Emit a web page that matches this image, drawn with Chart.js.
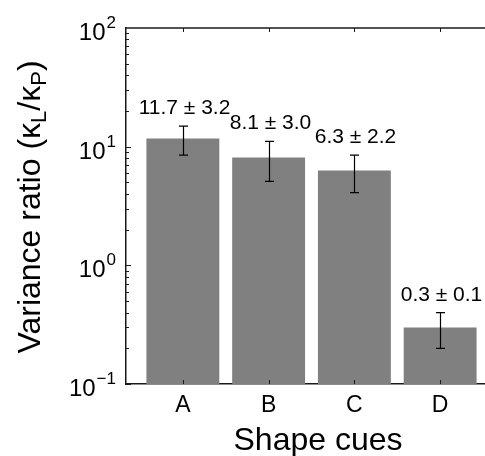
<!DOCTYPE html>
<html>
<head>
<meta charset="utf-8">
<script src="https://cdn.jsdelivr.net/npm/chart.js@4.4.1/dist/chart.umd.min.js"></script>
<style>
html, body { margin: 0; padding: 0; overflow: hidden; background: #fff; }
#wrap { width: 500px; height: 456px; position: relative; }
</style>
</head>
<body>
<div id="wrap"><canvas id="c"></canvas></div>
<script>
// ---- data ----
const categories = ['A', 'B', 'C', 'D'];
const means = [11.7, 8.1, 6.3, 0.3];
const errors = [3.2, 3.0, 2.2, 0.1];
const yTickValues = [0.1, 1, 10, 100];
const yTickExponents = ['\u22121', '0', '1', '2'];
const xTitle = 'Shape cues';

const FONT = '"Liberation Sans", Arial, Helvetica, sans-serif';
const INK = '#1a1a1a';

const decor = {
  id: 'decor',
  afterDatasetsDraw(chart) {
    const ctx = chart.ctx;
    const ca = chart.chartArea;
    const xs = chart.scales.x, ys = chart.scales.y;
    ctx.save();
    // top spine
    ctx.strokeStyle = INK;
    ctx.lineWidth = 1.5;
    ctx.beginPath();
    ctx.moveTo(ca.left - 0.75, ca.top);
    ctx.lineTo(ca.right, ca.top);
    ctx.stroke();
    // y ticks (major + minor), inward
    ctx.lineWidth = 1;
    for (let d = 0; d < yTickValues.length - 1; d++) {
      for (let m = 1; m <= 9; m++) {
        const v = yTickValues[d] * m;
        const py = Math.round(ys.getPixelForValue(v)) + 0.5;
        const len = m === 1 ? 5 : 3;
        ctx.beginPath();
        ctx.moveTo(ca.left, py);
        ctx.lineTo(ca.left + len, py);
        ctx.stroke();
      }
    }
    // x ticks top & bottom, inward
    categories.forEach((c, i) => {
      const px = Math.round(xs.getPixelForValue(i)) + 0.5;
      ctx.beginPath();
      ctx.moveTo(px, ca.top);
      ctx.lineTo(px, ca.top + 4);
      ctx.moveTo(px, ca.bottom);
      ctx.lineTo(px, ca.bottom - 4);
      ctx.stroke();
    });
    // error bars
    ctx.strokeStyle = '#000';
    ctx.lineWidth = 1.2;
    means.forEach((m, i) => {
      const px = Math.round(xs.getPixelForValue(i)) + 0.5;
      const yTop = ys.getPixelForValue(m + errors[i]);
      const yBot = ys.getPixelForValue(m - errors[i]);
      ctx.beginPath();
      ctx.moveTo(px, yTop); ctx.lineTo(px, yBot);
      ctx.moveTo(px - 4.5, yTop); ctx.lineTo(px + 4.5, yTop);
      ctx.moveTo(px - 4.5, yBot); ctx.lineTo(px + 4.5, yBot);
      ctx.stroke();
      // value labels
      ctx.fillStyle = '#000';
      ctx.font = '21px ' + FONT;
      ctx.textAlign = 'center';
      ctx.textBaseline = 'alphabetic';
      ctx.fillText(m.toFixed(1) + ' \u00b1 ' + errors[i].toFixed(1), px + 1, yTop - 12);
    });
    // y tick labels 10^n
    ctx.fillStyle = '#000';
    yTickValues.forEach((v, i) => {
      const py = ys.getPixelForValue(v);
      ctx.font = '17px ' + FONT;
      const ew = ctx.measureText(yTickExponents[i]).width;
      const ex = 116 - ew;
      ctx.textAlign = 'left';
      ctx.fillText(yTickExponents[i], ex, py);
      ctx.font = '24px ' + FONT;
      ctx.textAlign = 'right';
      ctx.fillText('10', ex - 1, py + 12);
    });
    // x title
    ctx.font = '32px ' + FONT;
    ctx.textAlign = 'center';
    ctx.fillText(xTitle, 318, 450);
    // y title with subscripts
    const pieces = [
      { t: 'Variance ratio (', f: 32, dy: 0 },
      { t: '\u03ba', f: 32, dy: 0 },
      { t: 'L', f: 22, dy: 6 },
      { t: '/', f: 32, dy: 0 },
      { t: '\u03ba', f: 32, dy: 0 },
      { t: 'P', f: 22, dy: 6 },
      { t: ')', f: 32, dy: 0 }
    ];
    let total = 0;
    pieces.forEach(p => { ctx.font = p.f + 'px ' + FONT; p.w = ctx.measureText(p.t).width; total += p.w; });
    ctx.translate(40, (ca.top + ca.bottom) / 2 + 1);
    ctx.rotate(-Math.PI / 2);
    ctx.textAlign = 'left';
    let x = -total / 2;
    pieces.forEach(p => {
      ctx.font = p.f + 'px ' + FONT;
      ctx.fillText(p.t, x, p.dy);
      x += p.w;
    });
    ctx.restore();
  }
};

new Chart(document.getElementById('c'), {
  type: 'bar',
  data: {
    datasets: [{
      data: means.map((m, i) => ({ x: i, y: m })),
      backgroundColor: '#808080',
      borderWidth: 0,
      barPercentage: 1,
      categoryPercentage: 0.85
    }]
  },
  options: {
    responsive: true,
    maintainAspectRatio: false,
    devicePixelRatio: 1,
    animation: false,
    layout: { padding: { top: 28, right: 3, left: 0, bottom: 0 } },
    plugins: { legend: { display: false }, tooltip: { enabled: false } },
    scales: {
      x: {
        type: 'linear',
        min: -0.663,
        max: 3.663,
        offset: false,
        grid: { display: false, drawTicks: false, offset: false },
        border: { display: true, color: INK, width: 1.5 },
        afterBuildTicks(scale) { scale.ticks = categories.map((c, i) => ({ value: i })); },
        afterFit(scale) { scale.height = 72; },
        ticks: {
          color: '#000',
          font: { family: FONT, size: 23 },
          padding: 8,
          maxRotation: 0,
          autoSkip: false,
          callback: (v) => categories[v] !== undefined ? categories[v] : ''
        }
      },
      y: {
        type: 'logarithmic',
        min: 0.1,
        max: 100,
        grid: { display: false, drawTicks: false },
        border: { display: true, color: INK, width: 1.5 },
        ticks: { display: false },
        afterFit(scale) { scale.width = 126; }
      }
    }
  },
  plugins: [decor]
});
</script>
</body>
</html>
